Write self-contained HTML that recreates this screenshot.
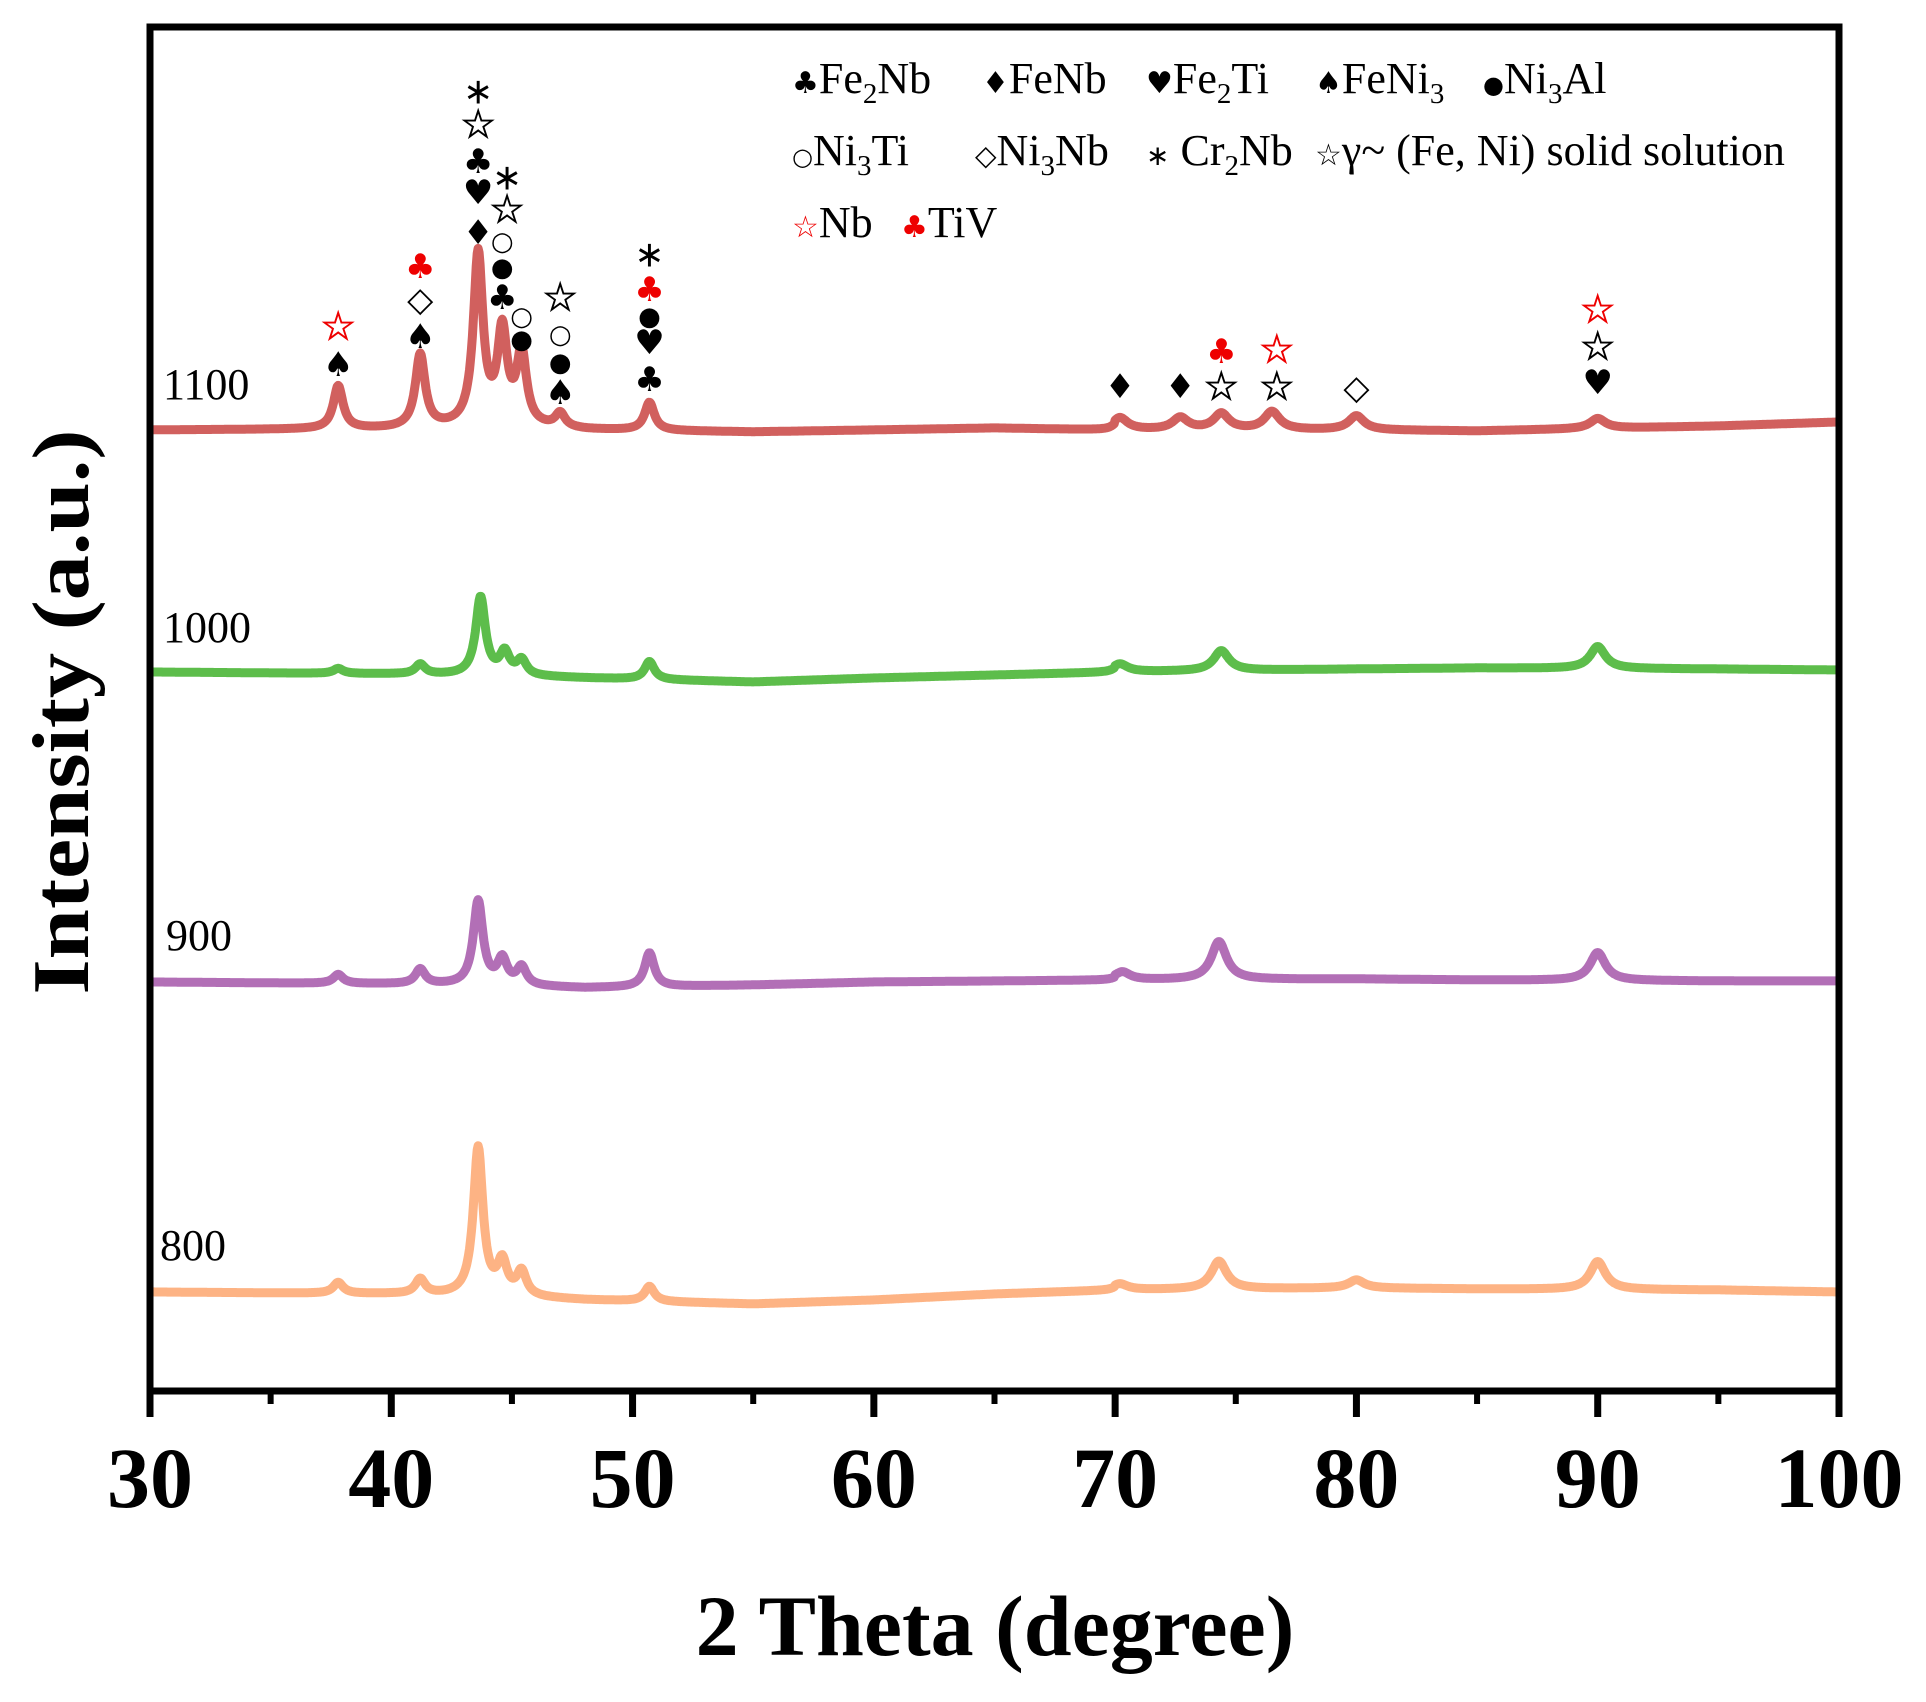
<!DOCTYPE html>
<html><head><meta charset="utf-8"><style>
html,body{margin:0;padding:0;background:#fff;}
svg{display:block;}
text{font-family:"Liberation Serif","DejaVu Serif",serif;}
.sym{font-family:"DejaVu Sans","Liberation Sans",sans-serif;}
</style></head><body>
<svg id="chart" width="1926" height="1702" viewBox="0 0 1926 1702" xmlns="http://www.w3.org/2000/svg">
<g id="series"></g>
<g id="marks"></g>
<rect x="150" y="27" width="1689" height="1364" fill="none" stroke="#000" stroke-width="7"/>
<g id="xaxis"></g>
<text x="995" y="1655" font-size="86" font-weight="bold" text-anchor="middle">2 Theta (degree)</text>
<text transform="translate(88,712) rotate(-90)" font-size="80" font-weight="bold" text-anchor="middle" textLength="565" lengthAdjust="spacingAndGlyphs">Intensity (a.u.)</text>
<g font-size="44">
 <text x="792" y="93"><tspan class="sym" font-size="30">♣</tspan>Fe<tspan font-size="29" dy="10">2</tspan><tspan dy="-10">Nb</tspan></text>
 <text x="982" y="93"><tspan class="sym" font-size="30">♦</tspan>FeNb</text>
 <text x="1146" y="93"><tspan class="sym" font-size="30">♥</tspan>Fe<tspan font-size="29" dy="10">2</tspan><tspan dy="-10">Ti</tspan></text>
 <text x="1315" y="93"><tspan class="sym" font-size="30">♠</tspan>FeNi<tspan font-size="29" dy="10">3</tspan></text>
 <text x="1483" y="93"><tspan class="sym" font-size="24">●</tspan>Ni<tspan font-size="29" dy="10">3</tspan><tspan dy="-10">Al</tspan></text>
 <text x="792" y="165"><tspan class="sym" font-size="24">○</tspan>Ni<tspan font-size="29" dy="10">3</tspan><tspan dy="-10">Ti</tspan></text>
 <text x="975" y="165"><tspan class="sym" font-size="28">◇</tspan>Ni<tspan font-size="29" dy="10">3</tspan><tspan dy="-10">Nb</tspan></text>
 <text x="1146" y="165"><tspan class="sym" font-size="28">∗</tspan> Cr<tspan font-size="29" dy="10">2</tspan><tspan dy="-10">Nb</tspan></text>
 <text x="1315" y="165"><tspan class="sym" font-size="30">☆</tspan>γ~ (Fe, Ni) solid solution</text>
 <text x="792" y="237"><tspan class="sym" font-size="30" fill="#e00">☆</tspan>Nb</text>
 <text x="901" y="237"><tspan class="sym" font-size="30" fill="#e00">♣</tspan>TiV</text>
</g>
<g font-size="44">
 <text x="163" y="399">1100</text>
 <text x="163" y="642">1000</text>
 <text x="166" y="950">900</text>
 <text x="160" y="1260">800</text>
</g>
</svg>
<script>
const NS='http://www.w3.org/2000/svg';
const xTicks=[30,40,50,60,70,80,90,100];
const minorTicks=[35,45,55,65,75,85,95];
const seriesNames=['1100','1000','900','800'];
const seriesColors=['#d1605e','#5dbd4b','#b26fb6','#fdb384'];
const seriesOffsets=[430,672,982,1292];
const baseX=[30,40,45,48,55,60,65,70,80,85,95,100];
const base1100=[0,1,3,0,-2,0,2,0,0,-1,4,8];
const base1000=[0,-2,-4,-6,-10,-6,-3,0,3,4,3,2];
const base900=[0,-2,-4,-6,-3,0,1,2,3,2,1,1];
const base800=[0,-2,-5,-8,-12,-8,-2,2,4,3,2,0];
const peakPos1100=[37.8,41.2,43.6,44.6,45.4,47.0,50.7,70.2,72.7,74.4,76.5,80.0,90.0];
const peakH1100=[43,73,172,92,72,14,28,12,12,16,18,14,10];
const peakPos1000=[37.8,41.2,43.7,44.7,45.4,50.7,70.2,74.4,90.0];
const peakH1000=[5,10,78,22,15,18,8,20,22];
const peakPos900=[37.8,41.2,43.6,44.6,45.4,50.7,70.3,74.3,90.0];
const peakH900=[9,15,84,25,18,34,8,38,28];
const peakPos800=[37.8,41.2,43.6,44.6,45.4,50.7,70.2,74.3,80.0,90.0];
const peakH800=[11,15,148,32,24,15,6,28,8,28];
const peakW=0.24;
const xs=v=>150+(v-30)*(1689/70);
const ys=(v,off)=>off-v;
function baseAt(arr,t){for(let i=0;i<baseX.length-1;i++){if(t<=baseX[i+1]){const f=(t-baseX[i])/(baseX[i+1]-baseX[i]);return arr[i]+f*(arr[i+1]-arr[i]);}}return arr[arr.length-1];}
const bases=[base1100,base1000,base900,base800];
const pPos=[peakPos1100,peakPos1000,peakPos900,peakPos800];
const pH=[peakH1100,peakH1000,peakH900,peakH800];
const sg=document.getElementById('series');
for(let s=0;s<4;s++){
 let d='';
 for(let t=30;t<=100.001;t+=0.04){
  let v=baseAt(bases[s],t);
  pPos[s].forEach((p,i)=>{const w=(t>70?0.38:peakW);v+=pH[s][i]/(1+((t-p)/w)**2);});
  d+=(d?'L':'M')+xs(t).toFixed(1)+','+ys(v,seriesOffsets[s]).toFixed(1);
 }
 const path=document.createElementNS(NS,'path');
 path.setAttribute('d',d);path.setAttribute('fill','none');
 path.setAttribute('stroke',seriesColors[s]);path.setAttribute('stroke-width','9');
 path.setAttribute('stroke-linejoin','round');
 
 
 sg.appendChild(path);
}
const xa=document.getElementById('xaxis');
xTicks.forEach(v=>{
 const l=document.createElementNS(NS,'line');
 l.setAttribute('x1',xs(v));l.setAttribute('x2',xs(v));l.setAttribute('y1',1391);l.setAttribute('y2',1417);
 l.setAttribute('stroke','#000');l.setAttribute('stroke-width','7');
 
 
 xa.appendChild(l);
 const tx=document.createElementNS(NS,'text');
 tx.setAttribute('x',xs(v));tx.setAttribute('y',1507);tx.setAttribute('font-size','86');
 tx.setAttribute('font-weight','bold');tx.setAttribute('text-anchor','middle');
 tx.textContent=v;
 
 
 xa.appendChild(tx);
});
minorTicks.forEach(v=>{
 const l=document.createElementNS(NS,'line');
 l.setAttribute('x1',xs(v));l.setAttribute('x2',xs(v));l.setAttribute('y1',1391);l.setAttribute('y2',1404);
 l.setAttribute('stroke','#000');l.setAttribute('stroke-width','6');
 
 
 xa.appendChild(l);
});
const markPos=[37.8,37.8,41.2,41.2,41.2,43.6,43.6,43.6,43.6,43.6,44.6,44.6,44.6,44.8,44.8,45.4,45.4,47.0,47.0,47.0,47.0,50.7,50.7,50.7,50.7,50.7,70.2,72.7,74.4,74.4,76.7,76.7,80.0,90.0,90.0,90.0];
const markY=[365,327,337,300,267,233,193,162,125,92,242,268,298,210,178,317,340,298,335,363,393,380,343,317,290,255,387,387,387,352,387,350,388,383,347,310];
const markG=['♠','☆','♠','◇','♣','♦','♥','♣','☆','∗','○','●','♣','☆','∗','○','●','☆','○','●','♠','♣','♥','●','♣','∗','♦','♦','☆','♣','☆','☆','◇','♥','☆','☆'];
const markC=['k','r','k','k','r','k','k','k','k','k','k','k','k','k','k','k','k','k','k','k','k','k','k','k','r','k','k','k','k','r','k','r','k','k','k','r'];
const mg=document.getElementById('marks');
markPos.forEach((p,i)=>{
 const t=document.createElementNS(NS,'text');
 t.setAttribute('x',xs(p));t.setAttribute('y',markY[i]);
 t.setAttribute('class','sym');t.setAttribute('text-anchor','middle');t.setAttribute('dominant-baseline','central');
 const g=markG[i];
 t.setAttribute('font-size',(g==='●'||g==='○')?'26':(g==='∗'?'36':(g==='☆'?'40':'34')));
 t.setAttribute('fill',markC[i]==='r'?'#e00':'#000');
 if(g==='☆'){t.setAttribute('stroke',markC[i]==='r'?'#e00':'#000');t.setAttribute('stroke-width','0.8');}
 t.textContent=g;
 
 
 mg.appendChild(t);
});
</script>
</body></html>
